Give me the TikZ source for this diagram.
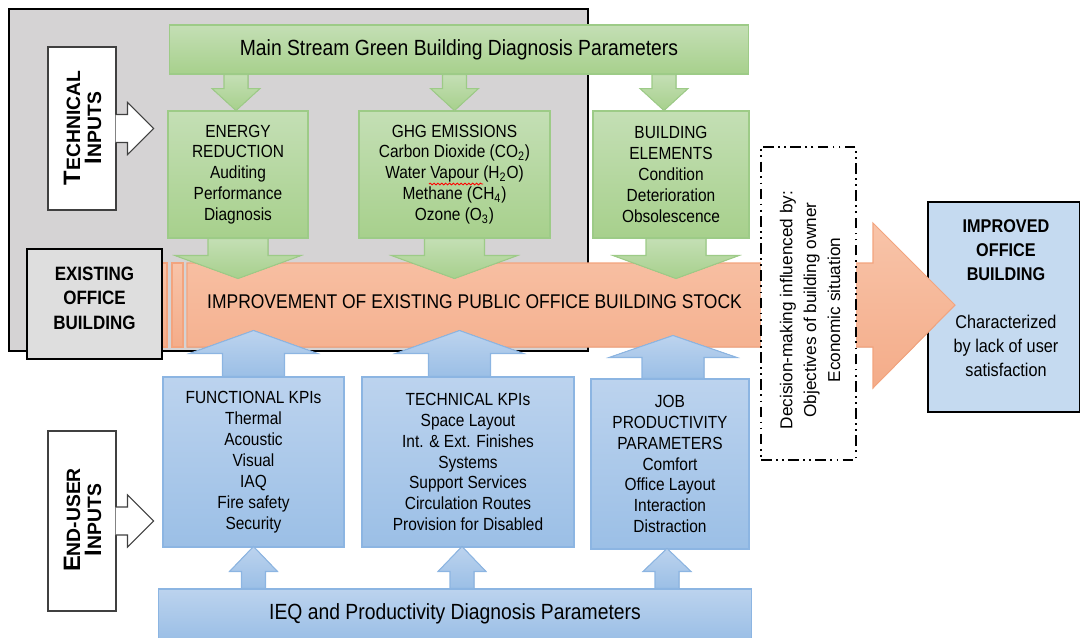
\documentclass[tikz,border=0pt]{standalone}
\usepackage{fontspec}
\setmainfont{Liberation Sans}[FakeStretch=0.88]
\newfontfamily\rotfont{Liberation Sans}
\usetikzlibrary{calc}
\usetikzlibrary{decorations.pathmorphing}

\definecolor{bggray}{HTML}{D5D3D4}
\definecolor{greentop}{HTML}{C4DFB5}
\definecolor{greenbot}{HTML}{A7D08C}
\definecolor{greenline}{HTML}{9DCB87}
\definecolor{bluetop}{HTML}{BCD3EE}
\definecolor{bluebot}{HTML}{9BBFE6}
\definecolor{blueline}{HTML}{8CB5E2}
\definecolor{orangetop}{HTML}{F8C4A9}
\definecolor{orangebot}{HTML}{F4AC89}
\definecolor{orangeline}{HTML}{F3A47E}
\definecolor{oldgray}{HTML}{DEDEDE}
\definecolor{newblue}{HTML}{C5DAF0}

\newcommand{\boxfont}{\fontsize{10}{11.9}\selectfont}
\newcommand{\titlefont}{\fontsize{12.5}{14}\selectfont}
\newcommand{\fakesc}[2]{{\fontsize{13.5}{13}\selectfont #1}{\fontsize{11}{13}\selectfont #2}}

% block arrow: style, base, shaft half width, head half width, head base offset, tip offset
\newcommand{\blockarrow}[6]{%
  \filldraw[#1] ($#2+(-#3,0)$) -- ($#2+(-#3,#5)$) -- ($#2+(-#4,#5)$) -- ($#2+(0,#6)$)
    -- ($#2+(#4,#5)$) -- ($#2+(#3,#5)$) -- ($#2+(#3,0)$) -- cycle;}
% white arrow coming out of an input box
\newcommand{\callarrow}[1]{%
  \filldraw[callout] ($(#1.east)+(-1,-14)$) -- ($(#1.east)+(11,-14)$) -- ($(#1.east)+(11,-26)$)
    -- ($(#1.east)+(37,0)$) -- ($(#1.east)+(11,26)$) -- ($(#1.east)+(11,14)$) -- ($(#1.east)+(-1,14)$);}

\tikzset{
  greenbox/.style={draw=greenline, line width=0.6pt, top color=greentop, bottom color=greenbot,
    align=center, inner sep=0pt, font=\boxfont},
  bluebox/.style={draw=blueline, line width=0.6pt, top color=bluetop, bottom color=bluebot,
    align=center, inner sep=0pt, font=\boxfont},
  greenarr/.style={draw=greenline, line width=0.6pt, top color=greentop, bottom color=greenbot},
  bluearr/.style={draw=blueline, line width=0.6pt, top color=bluetop, bottom color=bluebot},
  orangearr/.style={draw=orangeline, line width=0.6pt, top color=orangetop, bottom color=orangebot},
  callout/.style={draw=black!75, line width=0.6pt, fill=white},
  bigbox/.style={draw=black, line width=1.6pt, inner sep=0pt},
}

\begin{document}
\begin{tikzpicture}[x=0.02cm, y=-0.02cm]
\useasboundingbox (0,0) rectangle (1080,637);

% technical part background
\node[draw=black, line width=0.8pt, fill=bggray, minimum width=11.58cm, minimum height=6.84cm, inner sep=0pt] (techbg) at (298.5,180) {};

% input boxes
\node[callout, minimum width=1.36cm, minimum height=3.26cm, inner sep=0pt] (techin) at (82,128.5) {};
\node[rotate=90, align=center, font=\rotfont\bfseries] (techintxt) at (82.5,128) {\fakesc{T}{ECHNICAL}\\\fakesc{I}{NPUTS}};
\callarrow{techin}
\node[callout, minimum width=1.36cm, minimum height=3.6cm, inner sep=0pt] (userin) at (82,521) {};
\node[rotate=90, align=center, font=\rotfont\bfseries] (userintxt) at (82.5,520) {\fakesc{E}{ND-USER}\\\fakesc{I}{NPUTS}};
\callarrow{userin}

% green building parameters
\node[greenbox, minimum width=11.6cm, minimum height=0.98cm, font=\titlefont] (main) at (459,49.5) {Main Stream Green Building Diagnosis Parameters};
\node[greenbox, minimum width=2.8cm, minimum height=2.54cm] (energy) at (238,174.5) {ENERGY\\REDUCTION\\Auditing\\Performance\\Diagnosis};
\node[greenbox, minimum width=3.82cm, minimum height=2.54cm] (ghg) at (454.5,174.5) {GHG EMISSIONS\\Carbon Dioxide (CO\textsubscript{2})\\Water Vapour (H\textsubscript{2}O)\\Methane (CH\textsubscript{4})\\Ozone (O\textsubscript{3})};
\node[greenbox, minimum width=3.12cm, minimum height=2.54cm] (building) at (671,174.5) {BUILDING\\ELEMENTS\\Condition\\Deterioration\\Obsolescence};
\draw[red, line width=0.5pt, decorate, decoration={snake, amplitude=0.5pt, segment length=2.2pt}] (429,184) -- (483,184);

\coordinate (g1) at ($(energy.north |- main.south)+(-2,0)$);
\coordinate (g2) at (ghg.north |- main.south);
\coordinate (g3) at ($(building.north |- main.south)+(-7,0)$);
\foreach \g in {g1,g2,g3} {
  \blockarrow{greenarr}{(\g)}{12}{24}{14}{36}
}

% improved building
\node[bigbox, fill=newblue, minimum width=3.04cm, minimum height=4.2cm] (improved) at (1004,307) {};

% main improvement arrow
\filldraw[orangearr] (155,263) rectangle (167,347);
\filldraw[orangearr] (172,263) rectangle (183,347);
\filldraw[orangearr] (187,263) -- (873,263) -- (873,223) -- (955,305) -- (873,388) -- (873,347) -- (187,347) -- cycle;
\node[font=\fontsize{11.3}{14}\selectfont] (stock) at (474.5,302) {IMPROVEMENT OF EXISTING PUBLIC OFFICE BUILDING STOCK};

\blockarrow{greenarr}{(energy.south)}{30}{63}{17}{40}
\blockarrow{greenarr}{(ghg.south)}{30}{63}{17}{40}
\blockarrow{greenarr}{($(building.south)+(5,0)$)}{30}{63}{17}{40}

% existing building
\node[bigbox, fill=oldgray, minimum width=2.7cm, minimum height=2.2cm] (existing) at (94.5,304) {};
\node[align=center, font=\fontsize{11}{13.9}\selectfont\bfseries] (existingtxt) at (94.5,298) {EXISTING\\OFFICE\\BUILDING};

% decision making
\node[draw=black, line width=1.2pt, fill=white, dash pattern=on 6pt off 2.5pt on 1pt off 2.5pt on 1pt off 2.5pt,
  minimum width=1.9cm, minimum height=6.26cm, inner sep=0pt] (decision) at (808.5,303.5) {};
\node[rotate=90, align=center, font=\rotfont\fontsize{9.8}{13.6}\selectfont] (decisiontxt) at (810,310) {Decision-making influenced by:\\Objectives of building owner\\Economic situation};

% end-user parameters
\node[bluebox, minimum width=3.62cm, minimum height=3.4cm] (functional) at (253.5,462) {FUNCTIONAL KPIs\\Thermal\\Acoustic\\Visual\\IAQ\\Fire safety\\Security};
\node[bluebox, minimum width=4.24cm, minimum height=3.4cm] (technical) at (468,462) {TECHNICAL KPIs\\Space Layout\\Int. \& Ext. Finishes\\Systems\\Support Services\\Circulation Routes\\Provision for Disabled};
\node[bluebox, minimum width=3.16cm, minimum height=3.4cm] (job) at (670,464) {JOB\\PRODUCTIVITY\\PARAMETERS\\Comfort\\Office Layout\\Interaction\\Distraction};
\node[bluebox, minimum width=11.88cm, minimum height=1.0cm, font=\titlefont] (ieq) at (455,614) {IEQ and Productivity Diagnosis Parameters};

\blockarrow{bluearr}{(functional.north)}{31}{64}{-23}{-46}
\blockarrow{bluearr}{($(technical.north)+(-8.5,0)$)}{31}{64}{-23}{-46}
\blockarrow{bluearr}{($(job.north)+(3,0)$)}{31}{64}{-21}{-43}

\blockarrow{bluearr}{(functional.south |- ieq.north)}{12}{24}{-17}{-42}
\blockarrow{bluearr}{($(technical.south |- ieq.north)+(-6,0)$)}{12}{24}{-17}{-42}
\blockarrow{bluearr}{($(job.south |- ieq.north)+(-3,0)$)}{12}{24}{-17}{-40}

\node[align=center, font=\fontsize{10.5}{13.6}\selectfont] (improvedtxt) at (1006,298) {\textbf{IMPROVED}\\\textbf{OFFICE}\\\textbf{BUILDING}\\[13.6pt]Characterized\\by lack of user\\satisfaction};
\end{tikzpicture}
\end{document}
